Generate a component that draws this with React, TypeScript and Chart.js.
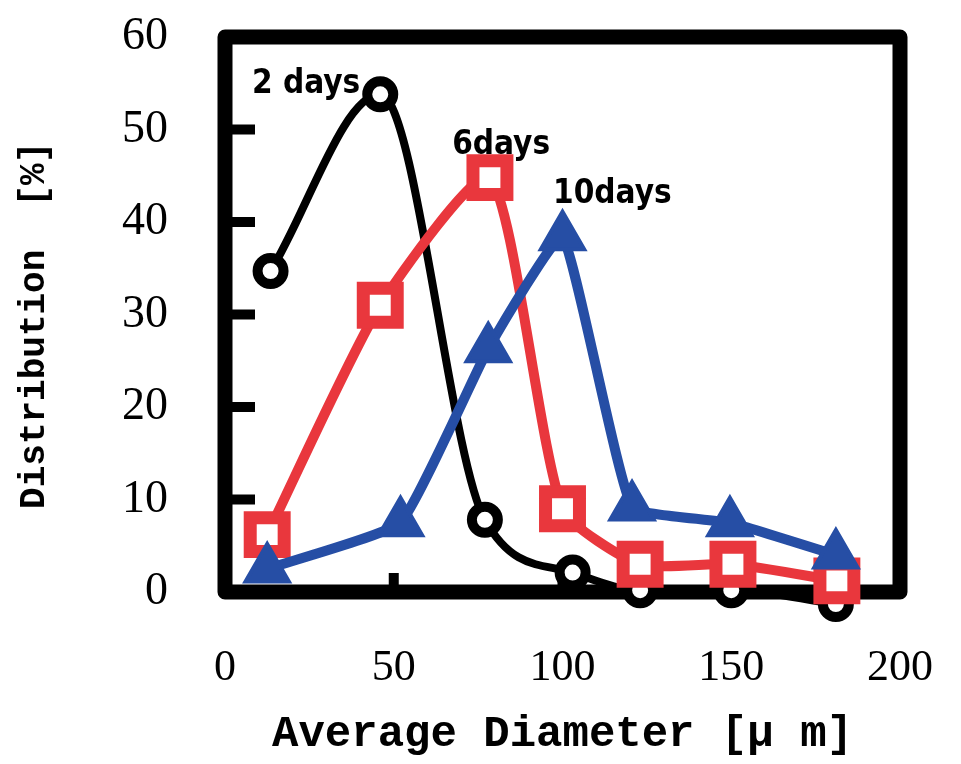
import { useEffect, useRef } from 'react';
import { Chart, registerables } from 'chart.js';

Chart.register(...registerables);

// ---- data ----
const xTwoDays = [13.5, 46, 77, 103, 123, 150, 181];
const yTwoDays = [34.7, 53.8, 7.8, 2.1, 0.2, 0.2, -1.3];

const xSixDays = [12.5, 46, 78.5, 100, 123, 150.5, 181.3];
const ySixDays = [6.2, 31, 44.8, 9.0, 3.0, 3.0, 1.2];

const xTenDays = [12.5, 52, 78, 100, 120.6, 149.6, 181];
const yTenDays = [2.5, 7.5, 26.3, 38.4, 9.2, 7.5, 4.0];

const xTickValues = [0, 50, 100, 150, 200];
const yTickValues = [0, 10, 20, 30, 40, 50, 60];
const yInnerTicks = [10, 20, 30, 40, 50];
const xInnerTicks = [50, 100, 150];

const annotationTexts = ['2 days', '6days', '10days'];
const annotationX = [8, 67.3, 97.2];
const annotationY = [53.9, 47.3, 42.1];

const xTitle = 'Average Diameter [\u03bc m]';
const yTitle = 'Distribution  [%] ';

const BLACK = '#000000';
const RED = 'rgb(233,55,61)';
const BLUE = 'rgb(38,78,165)';

const toPoints = (xs: number[], ys: number[]) => xs.map((x, i) => ({ x, y: ys[i] }));

const framePlugin = {
  id: 'frame',
  beforeDatasetsDraw(chart: any) {
    const { ctx, chartArea, scales } = chart;
    const { left, top, right, bottom } = chartArea;
    ctx.save();
    ctx.strokeStyle = '#000';
    ctx.lineWidth = 15;
    ctx.lineJoin = 'round';
    ctx.strokeRect(left, top, right - left, bottom - top);
    ctx.lineWidth = 10;
    ctx.lineCap = 'butt';
    ctx.beginPath();
    yInnerTicks.forEach((v) => {
      const py = scales.y.getPixelForValue(v);
      ctx.moveTo(left + 6, py);
      ctx.lineTo(left + 30, py);
    });
    xInnerTicks.forEach((v) => {
      const px = scales.x.getPixelForValue(v);
      ctx.moveTo(px, bottom - 6);
      ctx.lineTo(px, bottom - 19);
    });
    ctx.stroke();
    ctx.restore();
  },
};

const annotationPlugin = {
  id: 'annotations',
  afterDatasetsDraw(chart: any) {
    const { ctx, scales } = chart;
    ctx.save();
    ctx.fillStyle = '#000';
    ctx.font = 'bold 33px "DejaVu Sans Condensed", "DejaVu Sans", sans-serif';
    ctx.textAlign = 'left';
    ctx.textBaseline = 'alphabetic';
    annotationTexts.forEach((t, i) => {
      ctx.fillText(t, scales.x.getPixelForValue(annotationX[i]), scales.y.getPixelForValue(annotationY[i]));
    });
    ctx.restore();
  },
};

const hiddenGrid = (len: number) => ({
  display: true,
  drawOnChartArea: false,
  drawTicks: true,
  tickLength: len,
  color: 'rgba(0,0,0,0)',
  tickColor: 'rgba(0,0,0,0)',
});

export default function App() {
  const canvasRef = useRef<HTMLCanvasElement | null>(null);

  useEffect(() => {
    if (!canvasRef.current) return;
    const chart = new Chart(canvasRef.current, {
      type: 'line',
      data: {
        datasets: [
          {
            label: annotationTexts[0],
            data: toPoints(xTwoDays, yTwoDays),
            borderColor: BLACK,
            borderWidth: 8,
            cubicInterpolationMode: 'monotone',
            pointStyle: 'circle',
            pointRadius: 13,
            pointBorderWidth: 10,
            pointBorderColor: BLACK,
            pointBackgroundColor: '#ffffff',
            clip: false,
            order: 3,
          },
          {
            label: annotationTexts[1],
            data: toPoints(xSixDays, ySixDays),
            borderColor: RED,
            borderWidth: 10,
            tension: 0.2,
            pointStyle: 'rect',
            pointRadius: 24,
            pointBorderWidth: 13,
            pointBorderColor: RED,
            pointBackgroundColor: '#ffffff',
            clip: false,
            order: 2,
          },
          {
            label: annotationTexts[2],
            data: toPoints(xTenDays, yTenDays),
            borderColor: BLUE,
            borderWidth: 10,
            tension: 0.12,
            pointStyle: 'triangle',
            pointRadius: 25,
            pointBorderWidth: 4,
            pointBorderColor: BLUE,
            pointBackgroundColor: BLUE,
            clip: false,
            order: 1,
          },
        ],
      },
      options: {
        animation: false,
        responsive: false,
        devicePixelRatio: 1,
        layout: { padding: { top: 31, right: 61, left: 0, bottom: 0 } },
        plugins: { legend: { display: false }, tooltip: { enabled: false } },
        scales: {
          x: {
            type: 'linear',
            min: 0,
            max: 200,
            afterBuildTicks: (s: any) => {
              s.ticks = xTickValues.map((v) => ({ value: v }));
            },
            afterFit: (s: any) => {
              s.height = 172;
            },
            ticks: {
              color: '#000',
              padding: 2,
              font: { family: '"Liberation Serif", serif', size: 44 },
            },
            grid: hiddenGrid(48),
            border: { display: false },
            title: {
              display: true,
              text: xTitle,
              color: '#000',
              font: { family: '"Liberation Mono", monospace', size: 44, weight: 'bold' },
              padding: { top: 0, bottom: 3 },
            },
          },
          y: {
            type: 'linear',
            min: 0,
            max: 60,
            afterBuildTicks: (s: any) => {
              s.ticks = yTickValues.map((v) => ({ value: v }));
            },
            afterFit: (s: any) => {
              s.width = 225;
            },
            ticks: {
              color: '#000',
              padding: 2,
              font: { family: '"Liberation Serif", serif', size: 46 },
            },
            grid: hiddenGrid(55),
            border: { display: false },
            title: {
              display: true,
              text: yTitle,
              color: '#000',
              font: { family: '"Liberation Mono", monospace', size: 36, weight: 'bold' },
              padding: { top: 13, bottom: 0 },
            },
          },
        },
      },
      plugins: [framePlugin, annotationPlugin],
    });
    return () => chart.destroy();
  }, []);

  return (
    <div style={{ position: 'fixed', left: 0, top: 0, width: 961, height: 764, background: '#fff' }}>
      <canvas ref={canvasRef} width={961} height={764} />
    </div>
  );
}
